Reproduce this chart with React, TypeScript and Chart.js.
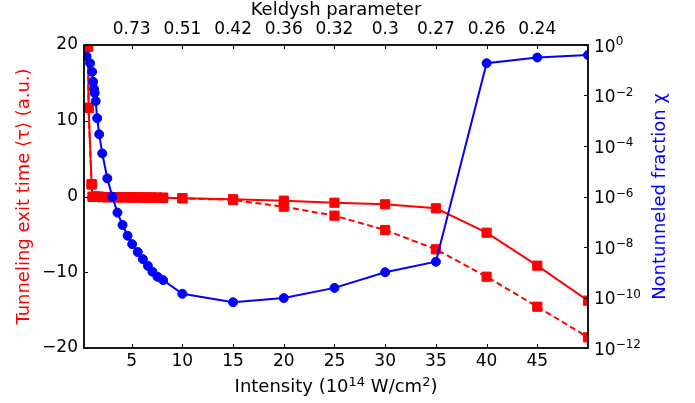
import React, { useEffect, useRef } from 'react';
import { Chart, registerables } from 'chart.js';

Chart.register(...registerables);

// ---- Data ----
const blueIntensity = [0.55, 0.9, 1.1, 1.2, 1.3, 1.35, 1.45, 1.6, 1.8, 2.1, 2.6, 3.1, 3.6, 4.1, 4.6, 5.05, 5.6, 6.1, 6.6, 7.05, 7.55, 8.1, 10, 15, 20, 25, 30, 35, 40, 45, 50];
const nontunneledFraction = [0.35, 0.19, 0.087, 0.035, 0.018, 0.0126, 6.0e-3, 1.26e-3, 2.9e-4, 5.1e-5, 5.2e-6, 9.8e-7, 2.3e-7, 7.4e-8, 2.8e-8, 1.3e-8, 6.3e-9, 3.3e-9, 1.8e-9, 1.05e-9, 6.6e-10, 4.9e-10, 1.4e-10, 6.5e-11, 9.5e-11, 2.4e-10, 1.0e-9, 2.6e-9, 0.19, 0.32, 0.4];

const redIntensity = [0.7, 0.75, 1.05, 1.15, 1.3, 1.45, 1.6, 1.8, 2.1, 2.6, 3.1, 3.6, 4.1, 4.6, 5.05, 5.6, 6.1, 6.6, 7.05, 7.55, 8.1, 10, 15, 20, 25, 30, 35, 40, 45, 50];
const exitTimeSolid = [19.8, 11.7, 1.6, -0.05, -0.05, -0.05, -0.05, -0.05, -0.07, -0.08, -0.08, -0.1, -0.1, -0.1, -0.12, -0.12, -0.13, -0.14, -0.15, -0.16, -0.17, -0.24, -0.37, -0.55, -0.82, -1.03, -1.56, -4.78, -9.13, -13.75];
const exitTimeDashed = [19.8, 11.7, 1.6, -0.05, -0.05, -0.05, -0.05, -0.05, -0.07, -0.08, -0.08, -0.1, -0.1, -0.1, -0.12, -0.12, -0.13, -0.14, -0.15, -0.16, -0.17, -0.24, -0.45, -1.35, -2.53, -4.42, -6.97, -10.59, -14.55, -18.59];

const xTicks = [5, 10, 15, 20, 25, 30, 35, 40, 45];
const keldyshLabels = ['0.73', '0.51', '0.42', '0.36', '0.32', '0.3', '0.27', '0.26', '0.24'];
const leftTicks = [-20, -10, 0, 10, 20];
const rightTickPowers = [-12, -10, -8, -6, -4, -2, 0];

const FONT = "'DejaVu Sans', sans-serif";
const RED = '#ff0000';
const BLUE = '#0000ff';
const TICK_SIZE = 17;
const TITLE_SIZE = 18;

type Part = { text: string; sup?: boolean };

function drawRich(ctx: CanvasRenderingContext2D, parts: Part[], x: number, y: number, align: 'left' | 'center', mainSize: number, supSize: number, raise: number) {
  const fontFor = (p: Part) => `${p.sup ? supSize : mainSize}px ${FONT}`;
  let total = 0;
  const widths = parts.map((p) => {
    ctx.font = fontFor(p);
    const w = ctx.measureText(p.text).width;
    total += w;
    return w;
  });
  let cx = align === 'center' ? x - total / 2 : x;
  ctx.textAlign = 'left';
  ctx.textBaseline = 'alphabetic';
  parts.forEach((p, i) => {
    ctx.font = fontFor(p);
    ctx.fillText(p.text, cx, p.sup ? y - raise : y);
    cx += widths[i];
  });
}

const frameAndTicks = {
  id: 'frameAndTicks',
  afterDraw(chart: any) {
    const { ctx, chartArea } = chart;
    const { left, right, top, bottom } = chartArea;
    const L = 4;
    ctx.save();
    ctx.strokeStyle = '#000';
    ctx.lineWidth = 1;
    const drawLine = (x1: number, y1: number, x2: number, y2: number) => {
      ctx.beginPath();
      ctx.moveTo(x1, y1);
      ctx.lineTo(x2, y2);
      ctx.stroke();
    };
    const sx = chart.scales.x;
    sx.ticks.forEach((t: any) => {
      const p = Math.round(sx.getPixelForValue(t.value)) + 0.5;
      drawLine(p, bottom, p, bottom - L);
    });
    const sx2 = chart.scales.x2;
    sx2.ticks.forEach((t: any) => {
      const p = Math.round(sx2.getPixelForValue(t.value)) + 0.5;
      drawLine(p, top, p, top + L);
    });
    const sy = chart.scales.y;
    sy.ticks.forEach((t: any) => {
      const p = Math.round(sy.getPixelForValue(t.value)) + 0.5;
      drawLine(left, p, left + L, p);
    });
    const sy2 = chart.scales.y2;
    ctx.fillStyle = '#000';
    sy2.ticks.forEach((t: any) => {
      const py = sy2.getPixelForValue(t.value);
      const p = Math.round(py) + 0.5;
      drawLine(right, p, right - L, p);
      const exp = Math.round(Math.log10(Number(t.value)));
      const expText = exp < 0 ? '\u2212' + String(-exp) : String(exp);
      drawRich(ctx, [{ text: '10' }, { text: expText, sup: true }], right + 6, py + 6.5, 'left', TICK_SIZE, 12, 6.5);
    });
    ctx.lineWidth = 1.8;
    ctx.strokeRect(left, top, right - left, bottom - top);

    // bottom axis title with superscripts
    ctx.fillStyle = '#000';
    drawRich(
      ctx,
      [{ text: 'Intensity (10' }, { text: '14', sup: true }, { text: ' W/cm' }, { text: '2', sup: true }, { text: ')' }],
      (left + right) / 2,
      391.5,
      'center',
      TITLE_SIZE,
      13,
      5.5
    );

    // right axis title (reads bottom-to-top)
    ctx.translate(660, (top + bottom) / 2);
    ctx.rotate(-Math.PI / 2);
    ctx.fillStyle = BLUE;
    ctx.font = `${TITLE_SIZE}px ${FONT}`;
    ctx.textAlign = 'center';
    ctx.textBaseline = 'middle';
    ctx.fillText('Nontunneled fraction χ', 0, 0);
    ctx.restore();
  },
};

export default function App() {
  const canvasRef = useRef<HTMLCanvasElement | null>(null);

  useEffect(() => {
    if (!canvasRef.current) return;
    const tickFont = { family: FONT, size: TICK_SIZE };
    const titleFont = { family: FONT, size: TITLE_SIZE };
    const noGrid = { display: false, drawTicks: false, tickLength: 0 };
    const redCommon = {
      yAxisID: 'y',
      xAxisID: 'x',
      borderColor: RED,
      backgroundColor: RED,
      borderWidth: 2,
      pointStyle: 'rect',
      pointRadius: 6.5,
      pointBorderWidth: 1,
      pointBorderColor: RED,
      pointBackgroundColor: RED,
      clip: 0,
      tension: 0,
    };
    const chart = new Chart(canvasRef.current, {
      type: 'line',
      data: {
        datasets: [
          {
            label: 'Nontunneled fraction',
            data: blueIntensity.map((x, i) => ({ x, y: nontunneledFraction[i] })),
            yAxisID: 'y2',
            xAxisID: 'x',
            borderColor: BLUE,
            backgroundColor: BLUE,
            borderWidth: 2,
            pointStyle: 'circle',
            pointRadius: 4.5,
            pointBorderWidth: 1,
            pointBorderColor: BLUE,
            pointBackgroundColor: BLUE,
            clip: 0,
            tension: 0,
          },
          {
            label: 'Exit time',
            data: redIntensity.map((x, i) => ({ x, y: exitTimeSolid[i] })),
            ...redCommon,
          },
          {
            label: 'Exit time (dashed)',
            data: redIntensity.map((x, i) => ({ x, y: exitTimeDashed[i] })),
            ...redCommon,
            borderDash: [6, 3.5],
          },
        ],
      } as any,
      options: {
        animation: false,
        responsive: true,
        maintainAspectRatio: false,
        devicePixelRatio: 1,
        layout: { padding: 0 },
        plugins: { legend: { display: false }, tooltip: { enabled: false } },
        scales: {
          x: {
            type: 'linear',
            position: 'bottom',
            min: 0.3,
            max: 50,
            grid: noGrid,
            border: { display: false },
            afterBuildTicks: (s: any) => {
              s.ticks = xTicks.map((v) => ({ value: v }));
            },
            afterFit: (s: any) => {
              s.height = 55;
            },
            ticks: {
              font: tickFont,
              color: '#000',
              padding: 3,
              maxRotation: 0,
              autoSkip: false,
              callback: (v: any) => String(v),
            },
          },
          x2: {
            type: 'linear',
            position: 'top',
            min: 0.3,
            max: 50,
            grid: noGrid,
            border: { display: false },
            afterBuildTicks: (s: any) => {
              s.ticks = xTicks.map((v) => ({ value: v }));
            },
            afterFit: (s: any) => {
              s.height = 45;
            },
            ticks: {
              font: tickFont,
              color: '#000',
              padding: 5,
              maxRotation: 0,
              autoSkip: false,
              callback: (v: any) => {
                const i = xTicks.indexOf(Number(v));
                return i >= 0 ? keldyshLabels[i] : '';
              },
            },
            title: {
              display: true,
              text: 'Keldysh parameter',
              font: titleFont,
              color: '#000',
              padding: { top: 0, bottom: 0 },
            },
          },
          y: {
            type: 'linear',
            position: 'left',
            min: -20,
            max: 20,
            grid: noGrid,
            border: { display: false },
            afterBuildTicks: (s: any) => {
              s.ticks = leftTicks.map((v) => ({ value: v }));
            },
            afterFit: (s: any) => {
              s.width = 84;
            },
            ticks: {
              font: tickFont,
              color: '#000',
              padding: 6,
              callback: (v: any) => String(v).replace('-', '\u2212'),
            },
            title: {
              display: true,
              text: 'Tunneling exit time ⟨τ⟩ (a.u.)',
              font: titleFont,
              color: RED,
              padding: { top: 14, bottom: 0 },
            },
          },
          y2: {
            type: 'logarithmic',
            position: 'right',
            min: 1e-12,
            max: 1,
            grid: noGrid,
            border: { display: false },
            afterBuildTicks: (s: any) => {
              s.ticks = rightTickPowers.map((p) => ({ value: Math.pow(10, p) }));
            },
            afterFit: (s: any) => {
              s.width = 107;
            },
            ticks: {
              display: false,
              font: tickFont,
            },
          },
        },
      } as any,
      plugins: [frameAndTicks],
    });
    return () => chart.destroy();
  }, []);

  return (
    <div style={{ position: 'fixed', left: 0, top: 0, width: 695, height: 403, background: '#fff' }}>
      <canvas ref={canvasRef} />
    </div>
  );
}
